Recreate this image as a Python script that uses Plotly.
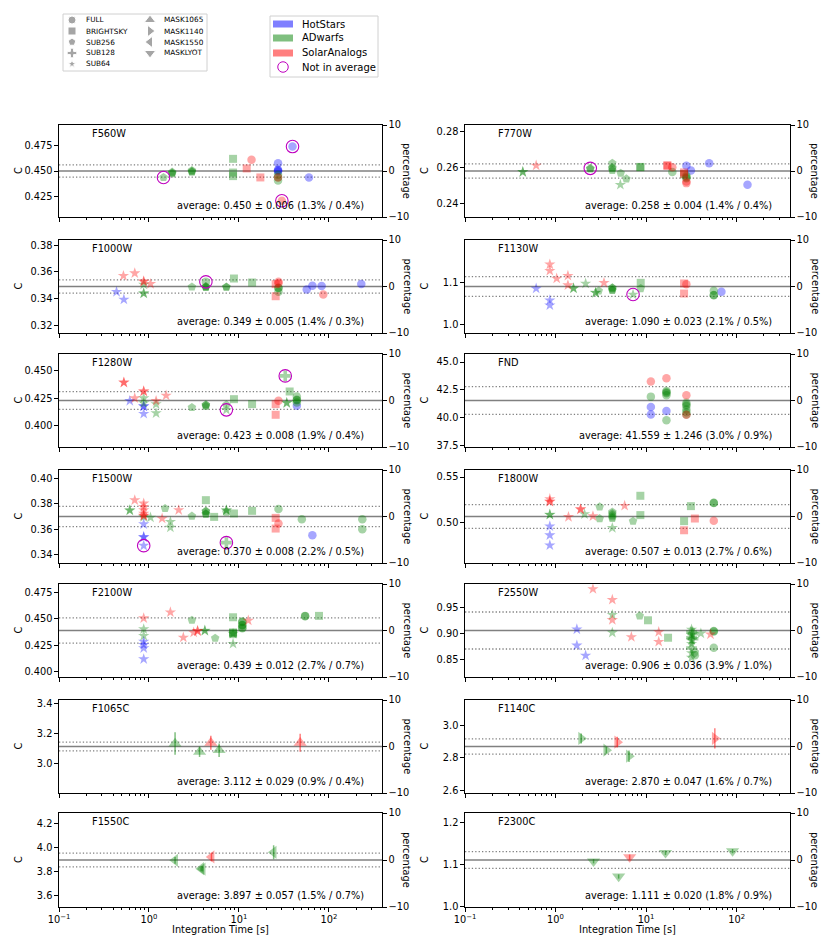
import plotly.graph_objects as go

# ---------------- data ----------------
FILTERS = ["F560W", "F770W", "F1000W", "F1130W", "F1280W", "FND", "F1500W",
           "F1800W", "F2100W", "F2550W", "F1065C", "F1140C", "F1550C", "F2300C"]
AVG = [0.450, 0.258, 0.349, 1.090, 0.423, 41.559, 0.370, 0.507, 0.439, 0.906,
       3.112, 2.870, 3.897, 1.111]
STD = [0.006, 0.004, 0.005, 0.023, 0.008, 1.246, 0.008, 0.013, 0.012, 0.036,
       0.029, 0.047, 0.057, 0.020]
PCT = [1.3, 1.4, 1.4, 2.1, 1.9, 3.0, 2.2, 2.7, 2.7, 3.9, 0.9, 1.6, 1.5, 1.8]
PCT_ERR = [0.4, 0.4, 0.3, 0.5, 0.4, 0.9, 0.5, 0.6, 0.7, 1.0, 0.4, 0.7, 0.7, 0.9]

YTICKS = [
    [0.425, 0.450, 0.475], [0.24, 0.26, 0.28], [0.32, 0.34, 0.36, 0.38], [1.0, 1.1],
    [0.400, 0.425, 0.450], [37.5, 40.0, 42.5, 45.0], [0.34, 0.36, 0.38, 0.40], [0.50, 0.55],
    [0.400, 0.425, 0.450, 0.475], [0.85, 0.90, 0.95], [3.0, 3.2, 3.4], [2.6, 2.8, 3.0],
    [3.6, 3.8, 4.0, 4.2], [1.0, 1.1, 1.2],
]
YTICKTEXT = [
    ["0.425", "0.450", "0.475"], ["0.24", "0.26", "0.28"], ["0.32", "0.34", "0.36", "0.38"], ["1.0", "1.1"],
    ["0.400", "0.425", "0.450"], ["37.5", "40.0", "42.5", "45.0"], ["0.34", "0.36", "0.38", "0.40"], ["0.50", "0.55"],
    ["0.400", "0.425", "0.450", "0.475"], ["0.85", "0.90", "0.95"], ["3.0", "3.2", "3.4"], ["2.6", "2.8", "3.0"],
    ["3.6", "3.8", "4.0", "4.2"], ["1.0", "1.1", "1.2"],
]
XTICKS = [0.1, 1, 10, 100]
XTICKTEXT = ["10<sup>\u22121</sup>", "10<sup>0</sup>", "10<sup>1</sup>", "10<sup>2</sup>"]
PCT_TICKS = [-10, 0, 10]

CLASSES = ["HotStars", "ADwarfs", "SolarAnalogs"]
SUBARRAYS_1 = ["FULL", "BRIGHTSKY", "SUB256", "SUB128", "SUB64"]
SUBARRAYS_2 = ["MASK1065", "MASK1140", "MASK1550", "MASKLYOT"]

# (integration time [s], C, error, class, subarray, excluded-from-average)
F560W = [
    (1.45, 0.4437, 0, "A", "SUB256", 1),
    (1.81, 0.4490, 0, "A", "SUB256", 0), (1.81, 0.4482, 0, "A", "SUB256", 0), (1.81, 0.4474, 0, "A", "SUB256", 0),
    (3.0, 0.4505, 0, "A", "SUB256", 0), (3.0, 0.4497, 0, "A", "SUB256", 0), (3.0, 0.4490, 0, "A", "SUB256", 0),
    (8.6, 0.4619, 0, "A", "BRIGHTSKY", 0), (8.6, 0.4485, 0, "A", "BRIGHTSKY", 0), (8.6, 0.4450, 0, "A", "BRIGHTSKY", 0),
    (12.2, 0.4525, 0, "S", "BRIGHTSKY", 0), (13.8, 0.4610, 0, "S", "FULL", 0), (17.3, 0.4437, 0, "S", "BRIGHTSKY", 0),
    (27.2, 0.4576, 0, "H", "FULL", 0), (27.2, 0.4512, 0, "H", "FULL", 0), (27.2, 0.4505, 0, "H", "FULL", 0),
    (27.2, 0.4495, 0, "H", "FULL", 0), (27.2, 0.4463, 0, "A", "FULL", 0), (27.2, 0.4408, 0, "A", "FULL", 0),
    (27.2, 0.4437, 0, "S", "FULL", 0), (27.2, 0.4440, 0, "A", "FULL", 0),
    (30.0, 0.4209, 0, "S", "FULL", 1), (39.4, 0.4739, 0, "H", "FULL", 1), (60.0, 0.4437, 0, "H", "FULL", 0),
]
F770W = [
    (0.435, 0.2574, 0, "A", "SUB64", 0), (0.435, 0.2575, 0, "A", "SUB64", 0), (0.611, 0.2611, 0, "S", "SUB64", 0),
    (2.42, 0.2595, 0, "A", "SUB256", 1), (2.42, 0.2592, 0, "A", "SUB256", 0),
    (4.24, 0.2624, 0, "A", "SUB256", 0), (4.24, 0.2600, 0, "A", "SUB256", 0), (4.24, 0.2594, 0, "A", "SUB256", 0),
    (4.24, 0.2583, 0, "A", "SUB256", 0), (5.25, 0.2568, 0, "A", "SUB256", 0), (6.06, 0.2536, 0, "A", "SUB256", 0),
    (5.2, 0.2503, 0, "A", "SUB64", 0), (8.65, 0.2601, 0, "A", "BRIGHTSKY", 0), (8.65, 0.2603, 0, "A", "BRIGHTSKY", 0),
    (17.2, 0.2613, 0, "S", "BRIGHTSKY", 0), (17.2, 0.2608, 0, "S", "BRIGHTSKY", 0),
    (19.5, 0.2601, 0, "S", "FULL", 0), (19.5, 0.2574, 0, "A", "FULL", 0),
    (26.3, 0.2572, 0, "S", "BRIGHTSKY", 0), (26.3, 0.2562, 0, "A", "BRIGHTSKY", 0), (26.3, 0.2562, 0, "S", "BRIGHTSKY", 0),
    (27.9, 0.2609, 0, "H", "FULL", 0), (31.3, 0.2583, 0, "H", "FULL", 0),
    (27.9, 0.2553, 0, "A", "FULL", 0), (27.9, 0.2545, 0, "A", "FULL", 0), (27.9, 0.2540, 0, "A", "FULL", 0),
    (27.9, 0.2521, 0, "S", "FULL", 0), (27.9, 0.2512, 0, "S", "FULL", 0),
    (49.8, 0.2624, 0, "H", "FULL", 0), (132.0, 0.2503, 0, "H", "FULL", 0),
]
F1000W = [
    (0.436, 0.3450, 0, "H", "SUB64", 0), (0.526, 0.3392, 0, "H", "SUB64", 0),
    (0.52, 0.3570, 0, "S", "SUB64", 0), (0.695, 0.3590, 0, "S", "SUB64", 0),
    (0.874, 0.3530, 0, "S", "SUB64", 0), (0.874, 0.3525, 0, "S", "SUB64", 0), (0.874, 0.3505, 0, "A", "SUB64", 0),
    (0.874, 0.3437, 0, "A", "SUB64", 0), (0.874, 0.3440, 0, "A", "SUB64", 0), (1.04, 0.3510, 0, "S", "SUB64", 0),
    (3.0, 0.3487, 0, "A", "SUB256", 0),
    (4.29, 0.3525, 0, "A", "FULL", 1), (4.29, 0.3490, 0, "A", "SUB256", 0), (4.29, 0.3488, 0, "A", "SUB256", 0),
    (4.29, 0.3483, 0, "A", "SUB256", 0), (7.25, 0.3487, 0, "A", "SUB256", 0), (7.25, 0.3485, 0, "A", "SUB256", 0),
    (8.8, 0.3550, 0, "A", "BRIGHTSKY", 0), (14.0, 0.3520, 0, "A", "BRIGHTSKY", 0),
    (25.6, 0.3508, 0, "S", "BRIGHTSKY", 0), (25.6, 0.3417, 0, "S", "BRIGHTSKY", 0),
    (27.5, 0.3525, 0, "S", "FULL", 0), (27.5, 0.3515, 0, "S", "FULL", 0), (27.5, 0.3480, 0, "A", "FULL", 0),
    (27.5, 0.3478, 0, "A", "FULL", 0), (27.5, 0.3450, 0, "A", "FULL", 0),
    (56.7, 0.3467, 0, "H", "FULL", 0), (65.5, 0.3495, 0, "H", "FULL", 0), (83.0, 0.3493, 0, "H", "FULL", 0),
    (86.6, 0.3430, 0, "S", "FULL", 0), (229.0, 0.3508, 0, "H", "FULL", 0),
]
F1130W = [
    (0.611, 1.0853, 0, "H", "SUB64", 0), (0.865, 1.1418, 0, "S", "SUB64", 0), (0.865, 1.1269, 0, "S", "SUB64", 0),
    (0.865, 1.0578, 0, "H", "SUB64", 0), (0.865, 1.0461, 0, "H", "SUB64", 0), (1.03, 1.1088, 0, "S", "SUB64", 0),
    (1.37, 1.1151, 0, "S", "SUB64", 0), (1.37, 1.0931, 0, "S", "SUB64", 0),
    (1.58, 1.0853, 0, "A", "SUB64", 0), (1.58, 1.0858, 0, "A", "SUB64", 0), (2.15, 1.0971, 0, "A", "SUB64", 0),
    (2.77, 1.0751, 0, "A", "SUB64", 0), (2.77, 1.0755, 0, "A", "SUB64", 0), (3.0, 1.0798, 0, "A", "SUB256", 0),
    (3.43, 1.0986, 0, "S", "SUB64", 0),
    (4.24, 1.0869, 0, "A", "SUB256", 0), (4.24, 1.0865, 0, "A", "SUB256", 0), (4.24, 1.0814, 0, "A", "SUB256", 0),
    (4.24, 1.0818, 0, "A", "SUB256", 0), (7.18, 1.0712, 0, "A", "SUB64", 1),
    (8.73, 1.0986, 0, "A", "BRIGHTSKY", 0), (8.73, 1.0853, 0, "A", "SUB256", 0),
    (26.3, 1.0971, 0, "S", "BRIGHTSKY", 0), (26.3, 1.0735, 0, "S", "BRIGHTSKY", 0), (27.9, 1.0955, 0, "S", "FULL", 0),
    (56.0, 1.0798, 0, "A", "FULL", 0), (56.0, 1.0696, 0, "A", "FULL", 0), (56.0, 1.0700, 0, "A", "FULL", 0),
    (68.0, 1.0775, 0, "H", "FULL", 0),
]
F1280W = [
    (0.526, 0.4393, 0, "S", "SUB64", 0), (0.526, 0.4395, 0, "S", "SUB64", 0), (0.612, 0.4227, 0, "H", "SUB64", 0),
    (0.695, 0.4251, 0, "S", "SUB64", 0), (0.874, 0.4312, 0, "S", "SUB64", 0), (0.874, 0.4315, 0, "S", "SUB64", 0),
    (0.874, 0.4251, 0, "A", "SUB64", 0), (0.874, 0.4206, 0, "A", "SUB64", 0),
    (0.874, 0.4176, 0, "H", "SUB64", 0), (0.874, 0.4179, 0, "H", "SUB64", 0), (0.874, 0.4109, 0, "H", "SUB64", 0),
    (1.2, 0.4227, 0, "S", "SUB64", 0), (1.2, 0.4197, 0, "A", "SUB64", 0), (1.2, 0.4115, 0, "A", "SUB64", 0),
    (1.55, 0.4275, 0, "S", "SUB64", 0), (3.0, 0.4167, 0, "A", "SUB256", 0),
    (4.29, 0.4191, 0, "A", "SUB256", 0), (4.29, 0.4188, 0, "A", "SUB256", 0), (4.29, 0.4176, 0, "A", "SUB256", 0),
    (7.25, 0.4191, 0, "A", "SUB256", 0), (7.25, 0.4145, 0, "A", "SUB64", 1),
    (8.8, 0.4242, 0, "A", "BRIGHTSKY", 0), (14.0, 0.4197, 0, "A", "BRIGHTSKY", 0),
    (25.6, 0.4197, 0, "S", "BRIGHTSKY", 0), (25.6, 0.4100, 0, "S", "BRIGHTSKY", 0), (27.5, 0.4227, 0, "S", "FULL", 0),
    (32.7, 0.4454, 0, "A", "SUB128", 1), (34.0, 0.4206, 0, "A", "SUB64", 0), (34.0, 0.4209, 0, "A", "SUB64", 0),
    (36.6, 0.4312, 0, "A", "BRIGHTSKY", 0),
    (44.0, 0.4266, 0, "A", "FULL", 0), (44.0, 0.4236, 0, "A", "FULL", 0), (44.0, 0.4233, 0, "A", "FULL", 0),
    (44.0, 0.4212, 0, "A", "FULL", 0), (44.0, 0.4182, 0, "H", "FULL", 0),
]
FND = [
    (11.3, 43.255, 0, "S", "FULL", 0), (11.3, 41.905, 0, "A", "FULL", 0), (11.3, 40.974, 0, "H", "FULL", 0),
    (11.3, 40.314, 0, "H", "FULL", 0),
    (16.8, 43.555, 0, "S", "FULL", 0), (16.8, 42.414, 0, "A", "FULL", 0), (16.8, 42.300, 0, "A", "FULL", 0),
    (16.8, 42.204, 0, "A", "FULL", 0), (16.8, 42.024, 0, "A", "FULL", 0), (16.8, 40.614, 0, "H", "FULL", 0),
    (16.8, 39.804, 0, "A", "FULL", 0),
    (27.9, 42.024, 0, "S", "FULL", 0), (27.9, 41.364, 0, "A", "FULL", 0), (27.9, 41.200, 0, "A", "FULL", 0),
    (27.9, 41.064, 0, "A", "FULL", 0), (27.9, 40.764, 0, "A", "FULL", 0), (27.9, 40.500, 0, "A", "FULL", 0),
    (27.9, 40.284, 0, "S", "FULL", 0), (27.9, 40.300, 0, "A", "FULL", 0),
]
F1500W = [
    (0.612, 0.3751, 0, "A", "SUB64", 0), (0.612, 0.3748, 0, "A", "SUB64", 0), (0.695, 0.3830, 0, "S", "SUB64", 0),
    (0.874, 0.3804, 0, "S", "SUB64", 0), (0.874, 0.3777, 0, "S", "SUB64", 0), (0.874, 0.3751, 0, "S", "SUB64", 0),
    (0.874, 0.3724, 0, "S", "SUB64", 0), (0.874, 0.3705, 0, "S", "SUB64", 0), (0.874, 0.3708, 0, "S", "SUB64", 0),
    (0.874, 0.3697, 0, "A", "SUB64", 0), (0.874, 0.3639, 0, "H", "SUB64", 0), (0.874, 0.3538, 0, "H", "SUB64", 0),
    (0.874, 0.3535, 0, "H", "SUB64", 0), (0.874, 0.3468, 0, "H", "SUB64", 1),
    (1.04, 0.3692, 0, "A", "SUB64", 0), (1.40, 0.3684, 0, "S", "SUB64", 0), (1.51, 0.3764, 0, "A", "SUB256", 0),
    (1.73, 0.3657, 0, "A", "SUB64", 0), (1.73, 0.3612, 0, "A", "SUB64", 0), (2.14, 0.3751, 0, "S", "SUB64", 0),
    (3.0, 0.3703, 0, "A", "SUB256", 0),
    (4.29, 0.3743, 0, "A", "SUB256", 0), (4.29, 0.3740, 0, "A", "SUB256", 0), (4.29, 0.3719, 0, "A", "SUB256", 0),
    (4.29, 0.3722, 0, "A", "SUB256", 0), (4.29, 0.3830, 0, "A", "BRIGHTSKY", 0), (5.3, 0.3697, 0, "A", "BRIGHTSKY", 0),
    (7.25, 0.3751, 0, "A", "SUB64", 0), (7.25, 0.3748, 0, "A", "SUB64", 0), (7.25, 0.3735, 0, "A", "SUB256", 0),
    (7.25, 0.3492, 0, "A", "SUB128", 1),
    (8.8, 0.3724, 0, "A", "BRIGHTSKY", 0), (14.0, 0.3745, 0, "A", "BRIGHTSKY", 0), (27.5, 0.3759, 0, "A", "FULL", 0),
    (25.6, 0.3689, 0, "S", "BRIGHTSKY", 0), (25.6, 0.3604, 0, "S", "BRIGHTSKY", 0), (27.5, 0.3644, 0, "S", "FULL", 0),
    (50.0, 0.3679, 0, "A", "FULL", 0), (65.5, 0.3551, 0, "H", "FULL", 0),
    (235.0, 0.3679, 0, "A", "FULL", 0), (235.0, 0.3599, 0, "A", "FULL", 0),
]
F1800W = [
    (0.865, 0.5260, 0, "S", "SUB64", 0), (0.865, 0.5231, 0, "S", "SUB64", 0), (0.865, 0.5234, 0, "S", "SUB64", 0),
    (0.865, 0.5092, 0, "A", "SUB64", 0), (0.865, 0.5089, 0, "A", "SUB64", 0),
    (0.865, 0.4964, 0, "H", "SUB64", 0), (0.865, 0.4866, 0, "H", "SUB64", 0), (0.865, 0.4756, 0, "H", "SUB64", 0),
    (1.39, 0.5066, 0, "S", "SUB64", 0), (1.89, 0.5150, 0, "S", "SUB64", 0), (1.89, 0.5147, 0, "S", "SUB64", 0),
    (2.09, 0.5096, 0, "A", "SUB64", 0), (2.59, 0.5074, 0, "S", "SUB64", 0),
    (3.07, 0.5176, 0, "A", "SUB256", 0), (3.07, 0.5048, 0, "A", "SUB256", 0),
    (4.24, 0.5120, 0, "A", "SUB256", 0), (4.24, 0.5103, 0, "A", "SUB256", 0), (4.24, 0.5085, 0, "A", "SUB256", 0),
    (4.24, 0.5066, 0, "A", "SUB256", 0), (4.24, 0.5050, 0, "A", "SUB256", 0), (4.24, 0.4946, 0, "A", "SUB64", 0),
    (5.8, 0.5187, 0, "S", "SUB64", 0), (7.18, 0.5019, 0, "A", "SUB256", 0),
    (8.65, 0.5296, 0, "A", "BRIGHTSKY", 0), (8.65, 0.5085, 0, "A", "BRIGHTSKY", 0),
    (26.3, 0.5019, 0, "A", "BRIGHTSKY", 0), (26.3, 0.4920, 0, "S", "BRIGHTSKY", 0),
    (31.3, 0.5183, 0, "A", "BRIGHTSKY", 0), (34.6, 0.5048, 0, "S", "BRIGHTSKY", 0),
    (56.0, 0.5220, 0, "A", "FULL", 0), (56.0, 0.5217, 0, "A", "FULL", 0), (56.0, 0.5023, 0, "S", "FULL", 0),
]
F2100W = [
    (0.874, 0.4506, 0, "S", "SUB64", 0), (0.874, 0.4403, 0, "A", "SUB64", 0), (0.874, 0.4340, 0, "A", "SUB64", 0),
    (0.874, 0.4286, 0, "H", "SUB64", 0), (0.874, 0.4255, 0, "H", "SUB64", 0), (0.874, 0.4224, 0, "H", "SUB64", 0),
    (0.874, 0.4120, 0, "H", "SUB64", 0), (1.73, 0.4562, 0, "S", "SUB64", 0), (2.41, 0.4324, 0, "S", "SUB64", 0),
    (3.0, 0.4487, 0, "A", "SUB256", 0), (3.14, 0.4371, 0, "S", "SUB64", 0),
    (3.47, 0.4387, 0, "S", "SUB64", 0), (3.47, 0.4384, 0, "S", "SUB64", 0),
    (4.18, 0.4390, 0, "A", "SUB64", 0), (4.18, 0.4387, 0, "A", "SUB64", 0), (5.44, 0.4318, 0, "A", "SUB256", 0),
    (8.6, 0.4265, 0, "A", "SUB64", 0), (8.6, 0.4515, 0, "A", "BRIGHTSKY", 0), (8.6, 0.4371, 0, "A", "BRIGHTSKY", 0),
    (8.6, 0.4368, 0, "A", "BRIGHTSKY", 0), (8.6, 0.4356, 0, "A", "BRIGHTSKY", 0), (8.6, 0.4360, 0, "A", "SUB64", 0),
    (10.9, 0.4475, 0, "A", "FULL", 0), (10.9, 0.4470, 0, "A", "FULL", 0), (10.9, 0.4443, 0, "A", "FULL", 0),
    (10.9, 0.4440, 0, "A", "FULL", 0), (10.9, 0.4412, 0, "A", "FULL", 0), (10.9, 0.4415, 0, "A", "FULL", 0),
    (12.7, 0.4484, 0, "S", "SUB64", 0), (54.4, 0.4528, 0, "A", "FULL", 0), (54.4, 0.4525, 0, "A", "FULL", 0),
    (77.6, 0.4528, 0, "A", "BRIGHTSKY", 0),
]
F2550W = [
    (1.72, 0.9083, 0, "H", "SUB64", 0), (1.72, 0.8769, 0, "H", "SUB64", 0), (2.15, 0.8573, 0, "H", "SUB64", 0),
    (2.59, 0.9868, 0, "S", "SUB64", 0), (4.24, 0.9659, 0, "S", "SUB64", 0), (4.24, 0.9364, 0, "A", "SUB64", 0),
    (4.24, 0.9266, 0, "S", "SUB64", 0), (4.24, 0.9018, 0, "A", "SUB64", 0), (6.88, 0.8933, 0, "S", "SUB64", 0),
    (8.51, 0.9345, 0, "A", "SUB256", 0), (10.5, 0.9259, 0, "A", "BRIGHTSKY", 0),
    (13.8, 0.9031, 0, "S", "SUB64", 0), (13.8, 0.8841, 0, "S", "SUB64", 0), (17.5, 0.8919, 0, "A", "BRIGHTSKY", 0),
    (31.8, 0.9080, 0, "A", "SUB64", 0), (31.8, 0.9030, 0, "A", "SUB128", 0), (31.8, 0.8970, 0, "A", "SUB64", 0),
    (31.8, 0.8920, 0, "A", "SUB128", 0), (31.8, 0.8870, 0, "A", "SUB64", 0), (31.8, 0.8800, 0, "A", "SUB64", 0),
    (31.8, 0.8720, 0, "A", "SUB128", 0), (31.8, 0.8620, 0, "A", "SUB64", 0), (31.8, 0.8530, 0, "A", "SUB64", 0),
    (33.0, 0.9000, 0, "A", "SUB128", 0), (33.0, 0.8900, 0, "A", "SUB128", 0),
    (34.6, 0.8638, 0, "A", "SUB256", 0), (34.6, 0.8580, 0, "A", "FULL", 0), (40.3, 0.9004, 0, "A", "SUB64", 0),
    (51.5, 0.8985, 0, "S", "SUB64", 0), (56.0, 0.9050, 0, "A", "FULL", 0), (56.0, 0.9040, 0, "A", "FULL", 0),
    (56.0, 0.8723, 0, "A", "FULL", 0),
]
F1065C = [
    (1.95, 3.132, 0.075, "A", "MASK1065", 0), (3.65, 3.076, 0.034, "A", "MASK1065", 0),
    (4.87, 3.137, 0.047, "S", "MASK1065", 0), (6.02, 3.087, 0.045, "A", "MASK1065", 0),
    (47.9, 3.137, 0.060, "S", "MASK1065", 0),
]
F1140C = [
    (1.92, 2.920, 0.031, "A", "MASK1140", 0), (3.64, 2.847, 0.020, "A", "MASK1140", 0),
    (4.81, 2.897, 0.033, "S", "MASK1140", 0), (6.48, 2.810, 0.035, "A", "MASK1140", 0),
    (57.5, 2.920, 0.062, "S", "MASK1140", 0),
]
F1550C = [
    (1.95, 3.894, 0.028, "A", "MASK1550", 0), (3.80, 3.825, 0.022, "A", "MASK1550", 0),
    (3.95, 3.822, 0.020, "A", "MASK1550", 0), (4.95, 3.922, 0.036, "S", "MASK1550", 0),
    (24.3, 3.961, 0.058, "A", "MASK1550", 0),
]
F2300C = [
    (2.63, 1.108, 0.005, "A", "MASKLYOT", 0), (4.98, 1.072, 0.005, "A", "MASKLYOT", 0),
    (6.59, 1.118, 0.006, "S", "MASKLYOT", 0), (16.4, 1.128, 0.005, "A", "MASKLYOT", 0),
    (90.3, 1.132, 0.005, "A", "MASKLYOT", 0),
]
PANELS = [F560W, F770W, F1000W, F1130W, F1280W, FND, F1500W, F1800W, F2100W, F2550W,
          F1065C, F1140C, F1550C, F2300C]

# ---------------- styling ----------------
W, H = 830, 949
FONT = "DejaVu Sans"
FS = 9.8
CLASS_KEY = {"H": "HotStars", "A": "ADwarfs", "S": "SolarAnalogs"}
CLASS_COLOR = {"HotStars": "rgba(0,0,255,0.5)", "ADwarfs": "rgba(0,128,0,0.5)",
               "SolarAnalogs": "rgba(255,0,0,0.5)"}
SYMBOL = {"FULL": "circle", "BRIGHTSKY": "square", "SUB256": "pentagon", "SUB128": "cross",
          "SUB64": "star", "MASK1065": "triangle-up", "MASK1140": "triangle-right",
          "MASK1550": "triangle-left", "MASKLYOT": "triangle-down"}
MSIZE = {"FULL": 8.5, "BRIGHTSKY": 8, "SUB256": 9, "SUB128": 9, "SUB64": 8.5,
         "MASK1065": 11.5, "MASK1140": 11.5, "MASK1550": 11.5, "MASKLYOT": 11.5}
RING = "#bf00bf"

COLX = [(59, 382), (465, 790)]
ROWY = [(125, 217), (240, 333), (354, 447), (470, 563), (584, 677), (700, 793), (813, 907)]


def px_x(p):
    return p / W


def px_y(p):
    return 1 - p / H


def ax(prefix, n):
    return prefix if n == 1 else f"{prefix}{n}"


fig = go.Figure()
layout = dict(width=W, height=H, margin=dict(l=0, r=0, t=0, b=0), autosize=False,
              paper_bgcolor="white", plot_bgcolor="rgba(0,0,0,0)", showlegend=False,
              font=dict(family=FONT, size=FS, color="black"))
shapes, annotations = [], []
NP = len(FILTERS)
minor_vals = [m * 10 ** e for e in (-1, 0, 1, 2) for m in range(2, 10) if m * 10 ** e < 400]

for k in range(NP):
    r, c = divmod(k, 2)
    n = k + 1
    xr, yr, y2r = ax("x", n), ax("y", n), f"y{n + NP}"
    x0p, x1p = COLX[c]
    ytop, ybot = ROWY[r]
    avg, std = AVG[k], STD[k]
    data = PANELS[k]

    layout[ax("xaxis", n)] = dict(
        type="log", domain=[px_x(x0p), px_x(x1p)], range=[-1, 2.59], anchor=yr,
        showline=True, linecolor="black", linewidth=1.2, mirror=True,
        ticks="outside", ticklen=3.5, tickwidth=1, tickcolor="black",
        tickmode="array", tickvals=XTICKS, ticktext=XTICKTEXT,
        showticklabels=(r == 6), showgrid=False, zeroline=False, automargin=False,
        minor=dict(ticks="outside", ticklen=2, tickwidth=0.8, tickcolor="black",
                   tickmode="array", tickvals=minor_vals, showgrid=False),
        tickfont=dict(size=FS),
    )
    layout[ax("yaxis", n)] = dict(
        domain=[px_y(ybot), px_y(ytop)], range=[avg * 0.9, avg * 1.1], anchor=xr,
        showline=True, linecolor="black", linewidth=1.2, mirror=True,
        ticks="outside", ticklen=3.5, tickwidth=1, tickcolor="black",
        tickmode="array", tickvals=YTICKS[k], ticktext=YTICKTEXT[k],
        showgrid=False, zeroline=False, automargin=False, tickfont=dict(size=FS),
    )
    layout[f"yaxis{n + NP}"] = dict(
        overlaying=yr, side="right", anchor=xr, range=[-10, 10],
        tickmode="array", tickvals=PCT_TICKS, ticktext=["\u221210", "0", "10"],
        ticks="outside", ticklen=3.5, tickwidth=1, tickcolor="black",
        showline=False, showgrid=False, zeroline=False, automargin=False, tickfont=dict(size=FS),
    )
    # invisible trace so the percentage axis is drawn
    fig.add_trace(go.Scatter(x=[1], y=[0], xaxis=xr, yaxis=y2r, mode="markers",
                             marker=dict(opacity=0), hoverinfo="skip"))

    # reference lines
    shapes.append(dict(type="line", xref=f"{xr} domain", yref=yr, x0=0, x1=1, y0=avg, y1=avg,
                       line=dict(color="#808080", width=1.6), layer="below"))
    for s in (-1, 1):
        shapes.append(dict(type="line", xref=f"{xr} domain", yref=yr, x0=0, x1=1,
                           y0=avg + s * std, y1=avg + s * std,
                           line=dict(color="#808080", width=1.3, dash="1.3px,2.1px"),
                           layer="below"))

    # data points grouped by class
    for ck, cname in CLASS_KEY.items():
        pts = [p for p in data if p[3] == ck]
        if not pts:
            continue
        err = [p[2] for p in pts]
        fig.add_trace(go.Scatter(
            x=[p[0] for p in pts], y=[p[1] for p in pts], xaxis=xr, yaxis=yr, mode="markers",
            marker=dict(symbol=[SYMBOL[p[4]] for p in pts], size=[MSIZE[p[4]] for p in pts],
                        color=CLASS_COLOR[cname], line=dict(width=0)),
            error_y=dict(type="data", array=err, visible=any(e > 0 for e in err),
                         color=CLASS_COLOR[cname], thickness=1.5, width=0),
            name=cname,
        ))
    ex = [p for p in data if p[5]]
    if ex:
        fig.add_trace(go.Scatter(
            x=[p[0] for p in ex], y=[p[1] for p in ex], xaxis=xr, yaxis=yr, mode="markers",
            marker=dict(symbol="circle-open", size=12.5, color=RING, line=dict(width=1.1)),
            name="Not in average"))

    # panel texts
    annotations.append(dict(text=FILTERS[k], xref=f"{xr} domain", yref=f"{yr} domain",
                            x=0.095, y=0.985, xanchor="left", yanchor="top", showarrow=False,
                            font=dict(size=FS)))
    annotations.append(dict(
        text=f"average: {avg:.3f} \u00b1 {std:.3f} ({PCT[k]:.1f}% / {PCT_ERR[k]:.1f}%)",
        xref=f"{xr} domain", yref=f"{yr} domain", x=0.95, y=0.12, xanchor="right",
        yanchor="middle", showarrow=False, font=dict(size=FS)))
    ymid = px_y((ytop + ybot) / 2)
    annotations.append(dict(text="C", xref="paper", yref="paper", x=px_x(x0p - 41), y=ymid,
                            textangle=-90, showarrow=False, xanchor="center", yanchor="middle",
                            font=dict(size=FS)))
    annotations.append(dict(text="percentage", xref="paper", yref="paper", x=px_x(x1p + 25),
                            y=ymid, textangle=90, showarrow=False, xanchor="center",
                            yanchor="middle", font=dict(size=FS)))
    if r == 6:
        annotations.append(dict(text="Integration Time [s]", xref="paper", yref="paper",
                                x=px_x((x0p + x1p) / 2), y=px_y(929), showarrow=False,
                                xanchor="center", yanchor="middle", font=dict(size=FS)))

# ---------------- legends (drawn manually) ----------------
LX, LY = ax("x", 2 * NP + 1), f"y{2 * NP + 1}"
layout[ax("xaxis", 2 * NP + 1)] = dict(domain=[0, 0.5], range=[0, 415], visible=False,
                                       anchor=LY, fixedrange=True)
layout[f"yaxis{2 * NP + 1}"] = dict(domain=[px_y(90), 1], range=[90, 0], visible=False,
                                    anchor=LX, fixedrange=True)
rows_y = [20, 31, 42, 53, 64]
leg_x, leg_y, leg_sym, leg_size = [], [], [], []
for i, s in enumerate(SUBARRAYS_1):
    leg_x.append(72); leg_y.append(rows_y[i]); leg_sym.append(SYMBOL[s])
    leg_size.append(6.5 if s == "SUB64" else 8)
    annotations.append(dict(text=s, xref="paper", yref="paper", x=px_x(84), y=px_y(rows_y[i]),
                            xanchor="left", yanchor="middle", showarrow=False,
                            font=dict(size=7.3)))
for i, s in enumerate(SUBARRAYS_2):
    leg_x.append(150); leg_y.append(rows_y[i]); leg_sym.append(SYMBOL[s]); leg_size.append(10)
    annotations.append(dict(text=s, xref="paper", yref="paper", x=px_x(162), y=px_y(rows_y[i]),
                            xanchor="left", yanchor="middle", showarrow=False,
                            font=dict(size=7.3)))
fig.add_trace(go.Scatter(x=leg_x, y=leg_y, xaxis=LX, yaxis=LY, mode="markers",
                         marker=dict(symbol=leg_sym, size=leg_size, color="#808080"),
                         hoverinfo="skip"))
shapes.append(dict(type="rect", xref="paper", yref="paper", x0=px_x(63), x1=px_x(207),
                   y0=px_y(71), y1=px_y(14), line=dict(color="#d0d0d0", width=1)))
shapes.append(dict(type="rect", xref="paper", yref="paper", x0=px_x(270), x1=px_x(378),
                   y0=px_y(77), y1=px_y(16), line=dict(color="#d0d0d0", width=1)))
crow = [24, 38, 53]
for i, cname in enumerate(CLASSES):
    shapes.append(dict(type="rect", xref="paper", yref="paper", x0=px_x(273), x1=px_x(293),
                       y0=px_y(crow[i] + 3.5), y1=px_y(crow[i] - 3.5),
                       fillcolor=CLASS_COLOR[cname], line=dict(width=0)))
    annotations.append(dict(text=cname, xref="paper", yref="paper", x=px_x(300), y=px_y(crow[i]),
                            xanchor="left", yanchor="middle", showarrow=False,
                            font=dict(size=10)))
fig.add_trace(go.Scatter(x=[283], y=[67], xaxis=LX, yaxis=LY, mode="markers",
                         marker=dict(symbol="circle-open", size=10.5, color=RING, line=dict(width=1)),
                         hoverinfo="skip"))
annotations.append(dict(text="Not in average", xref="paper", yref="paper", x=px_x(300),
                        y=px_y(67), xanchor="left", yanchor="middle", showarrow=False,
                        font=dict(size=10)))

layout["shapes"] = shapes
layout["annotations"] = annotations
fig.update_layout(**layout)
fig.write_html("out.html", config={"displayModeBar": False},
               post_script="document.body.style.margin='0px';")
